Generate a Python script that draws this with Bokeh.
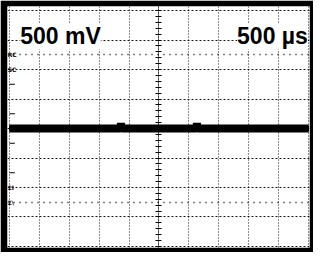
import numpy as np
from bokeh.plotting import figure
from bokeh.models import FixedTicker, LinearAxis, Range1d, Label
from bokeh.core.properties import value
from bokeh.embed import file_html
from bokeh.resources import INLINE

# ---- data ----
volts_per_div_mv = 500          # 500 mV / div
time_per_div_us = 500           # 500 us / div
x_divs = 10
y_divs = 8

# trace: flat line at 0 V with two small glitches
time_us = [0, 500, 1000, 1500, 1855, 1865, 1875, 2000, 2500, 3000, 3125, 3135, 3145, 3500, 4000, 4500, 5000]
trace_mv = [0, 0, 0, 0, 0, 90, 0, 0, 0, 0, 0, 90, 0, 0, 0, 0, 0]

# cursor / marker levels (dotted) and left-edge labels
cursor_levels_mv = [1250, -1250]
label_levels_mv = [1250, 1000, -1000, -1250]
label_texts = ["RC", "SC", "ΣI", "Σ\\"]
half_div_marks_mv = [750, 250, -250, -750]

x_max = time_per_div_us * x_divs
y_half = volts_per_div_mv * y_divs / 2

p = figure(width=313, height=252, output_backend="svg", toolbar_location=None,
           x_range=Range1d(-33, x_max + 17), y_range=Range1d(-y_half - 17, y_half + 68),
           min_border_left=7, min_border_top=6, min_border_right=4, min_border_bottom=5)
p.border_fill_color = "black"
p.background_fill_color = "white"
p.outline_line_color = None
p.xaxis.visible = False
p.yaxis.visible = False

x_major = [i * time_per_div_us for i in range(x_divs + 1)]
y_major = [-y_half + i * volts_per_div_mv for i in range(y_divs + 1)]
p.xgrid.ticker = FixedTicker(ticks=x_major)
p.ygrid.ticker = FixedTicker(ticks=y_major)
p.xgrid.grid_line_color = "black"
p.ygrid.grid_line_color = "black"
p.xgrid.grid_line_dash = "1 2"
p.ygrid.grid_line_dash = "2 2"
p.xgrid.grid_line_width = 1
p.ygrid.grid_line_width = 1
p.xgrid.grid_line_alpha = 0.9
p.ygrid.grid_line_alpha = 0.9

# center graticule axes with minor marks (0.2 div)
minor_y = list(np.arange(-y_half, y_half + 1, volts_per_div_mv / 5))
minor_x = list(np.arange(0, x_max + 1, time_per_div_us / 5))
vax = LinearAxis(fixed_location=x_max / 2, ticker=FixedTicker(ticks=minor_y),
                 major_label_text_font_size="0px", major_label_text_alpha=0,
                 major_tick_in=3, major_tick_out=3, minor_tick_line_color=None,
                 axis_line_color="black", axis_line_dash="1 1",
                 major_tick_line_color="black", major_tick_line_width=1)
p.add_layout(vax, "left")
hax = LinearAxis(fixed_location=0, ticker=FixedTicker(ticks=minor_x),
                 major_label_text_font_size="0px", major_label_text_alpha=0,
                 major_tick_in=3, major_tick_out=3, minor_tick_line_color=None,
                 axis_line_color="black", axis_line_dash="1 1",
                 major_tick_line_color="black")
p.add_layout(hax, "below")

# dotted cursor lines
p.hspan(y=cursor_levels_mv, line_color="black", line_dash="1 5", line_width=1.5)

# small marks at half divisions on the left edge
p.segment(x0=[0] * len(half_div_marks_mv), x1=[90] * len(half_div_marks_mv),
          y0=half_div_marks_mv, y1=half_div_marks_mv, line_color="black", line_width=1)

# trace
p.line(time_us, trace_mv, line_color="black", line_width=8)

# tiny left labels
p.text(x=[-30] * len(label_texts), y=label_levels_mv, text=label_texts,
       text_font=value("DejaVu Sans"), text_font_size="6px", text_font_style="bold",
       text_baseline="middle", text_align="left", text_color="black")

# scale readouts
lab1 = Label(x=180, y=1560, text=f"{volts_per_div_mv} mV", text_font="Liberation Sans",
             text_font_size="23px", text_font_style="bold", text_color="black",
             background_fill_color="white", text_baseline="alphabetic")
lab2 = Label(x=4990, y=1560, text=f"{time_per_div_us} µs", text_font="Liberation Sans",
             text_font_size="23px", text_font_style="bold", text_color="black",
             text_align="right", background_fill_color="white", text_baseline="alphabetic")
p.add_layout(lab1)
p.add_layout(lab2)

open("out.html", "w").write(file_html(p, INLINE))
